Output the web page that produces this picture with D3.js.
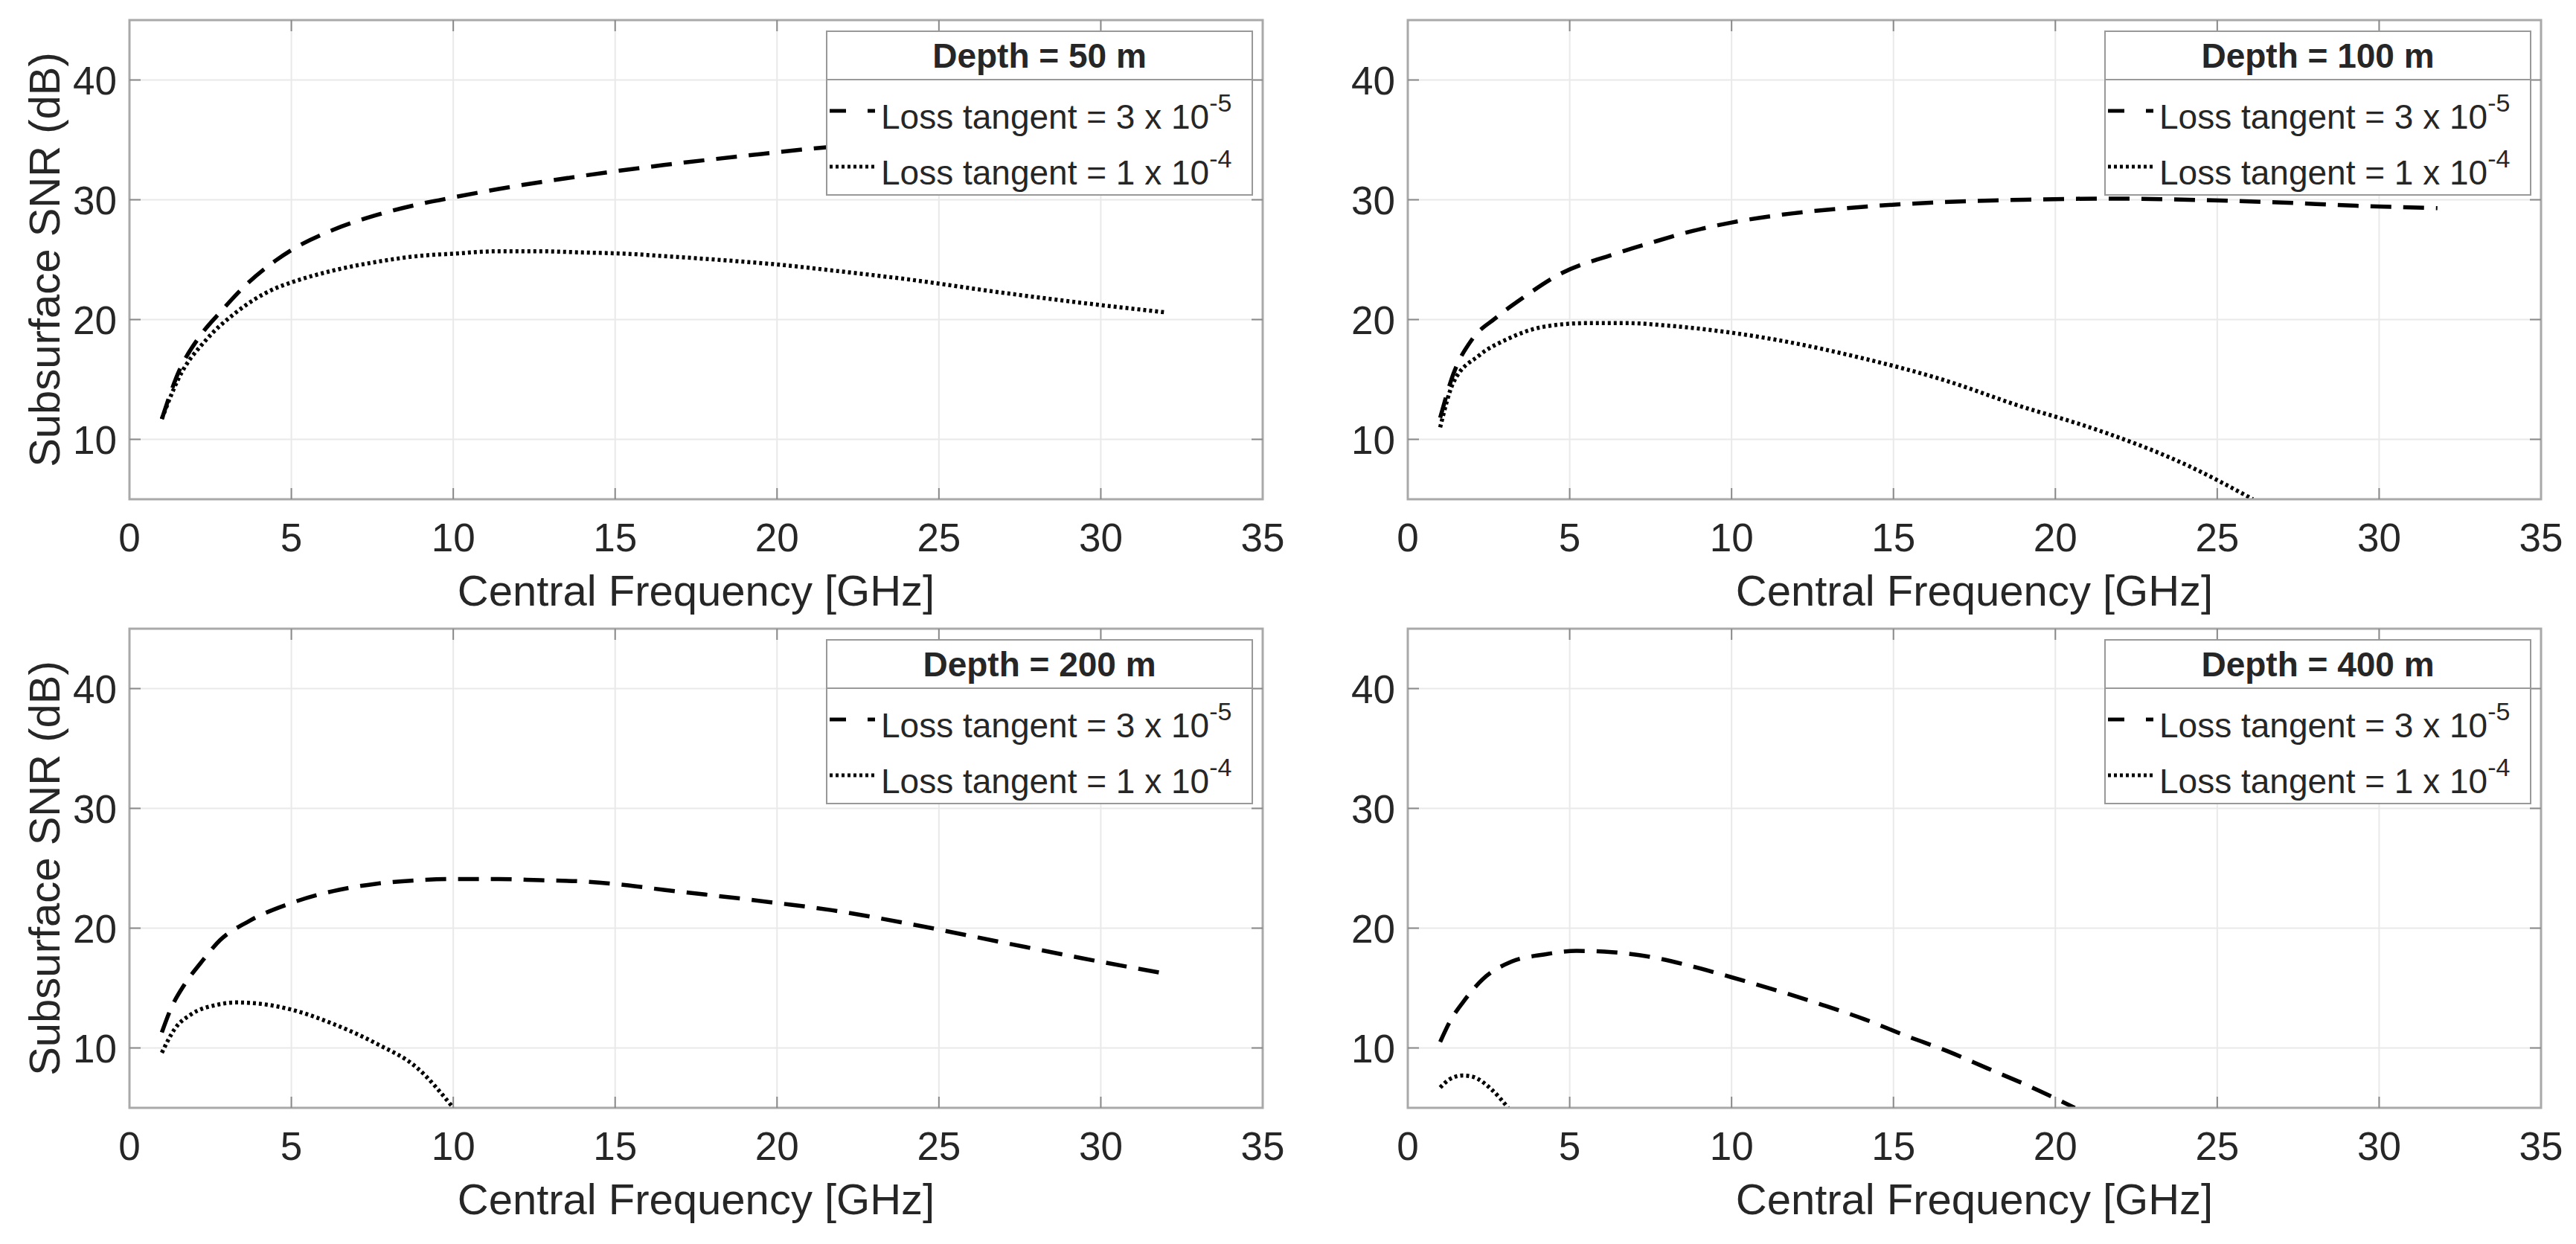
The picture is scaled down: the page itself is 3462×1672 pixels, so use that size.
<!DOCTYPE html>
<html>
<head>
<meta charset="utf-8">
<script src="https://cdn.jsdelivr.net/npm/d3@7"></script>
<style>
body { margin: 0; background: #fff; }
text { font-family: "Liberation Sans", Arial, sans-serif; fill: #262626; }
</style>
</head>
<body>
<svg id="fig" width="3462" height="1672"></svg>
<script>
// ticks and labels
var freqTicks = [0, 5, 10, 15, 20, 25, 30, 35];
var snrTicks = [10, 20, 30, 40];
var depthLabels = ["Depth = 50 m", "Depth = 100 m", "Depth = 200 m", "Depth = 400 m"];
var lossLabels = [["3 x 10", "-5"], ["1 x 10", "-4"]];

// depth 50 m  (a = loss tangent 3e-5, b = 1e-4)
var f50a = [1, 1.5, 2.2, 2.8, 3.6, 4.5, 5, 6.3, 7.6, 8.9, 10, 11.4, 14, 16.5, 19.1, 21.2, 23, 26, 29, 32];
var s50a = [11.7, 15.5, 18.7, 20.6, 22.9, 24.9, 25.8, 27.5, 28.7, 29.6, 30.2, 30.9, 32.0, 32.9, 33.7, 34.3, 34.7, 35.2, 35.6, 35.9];
var f50b = [1, 1.5, 2.4, 3.2, 4.5, 5, 6.3, 7.6, 8.9, 10, 11.4, 12.7, 14, 15.3, 16.5, 19.1, 20, 21.7, 24.2, 26.8, 29.4, 32];
var s50b = [11.7, 15.0, 18.4, 20.4, 22.6, 23.1, 24.1, 24.8, 25.3, 25.5, 25.7, 25.7, 25.6, 25.5, 25.3, 24.8, 24.6, 24.1, 23.3, 22.3, 21.4, 20.6];

// depth 100 m
var f100a = [1, 1.4, 2.0, 2.7, 3.6, 4.7, 6.3, 7.5, 8.8, 10, 11.4, 14, 16.5, 19, 21.6, 24.1, 26.7, 29.3, 31.8];
var s100a = [11.8, 15.4, 18.4, 20.1, 21.9, 23.8, 25.4, 26.4, 27.4, 28.1, 28.7, 29.4, 29.8, 30.0, 30.1, 30.0, 29.8, 29.5, 29.3];
var f100b = [1, 1.4, 2.2, 3.1, 4.2, 5.5, 6.8, 8, 10, 11.4, 14, 16.5, 19, 20.6, 21.6, 24.1, 26.1];
var s100b = [11.0, 14.7, 17.0, 18.4, 19.4, 19.7, 19.7, 19.5, 18.9, 18.3, 16.8, 15.0, 12.7, 11.4, 10.5, 7.8, 5.0];

// depth 200 m
var f200a = [1, 1.3, 1.7, 2.2, 2.8, 3.7, 5, 6.3, 7.6, 8.9, 10, 11.4, 12.7, 14, 15.3, 16.5, 19.1, 20, 21.7, 24.2, 26.8, 29.4, 32];
var s200a = [11.3, 13.4, 15.3, 17.1, 19.0, 20.6, 22.1, 23.1, 23.7, 24.0, 24.1, 24.1, 24.0, 23.9, 23.6, 23.2, 22.4, 22.1, 21.5, 20.3, 18.9, 17.5, 16.2];
var f200b = [1, 1.4, 1.9, 2.7, 3.3, 4, 5, 6.3, 7.6, 8.9, 10];
var s200b = [9.6, 11.6, 12.8, 13.6, 13.8, 13.7, 13.2, 12.0, 10.4, 8.3, 5.0];

// depth 400 m
var f400a = [1, 1.3, 1.7, 2.3, 3.2, 4.2, 5.2, 6.3, 7.5, 8.8, 10, 11.4, 12.8, 14.1, 15.4, 16.7, 17.9, 19.2, 20.6];
var s400a = [10.5, 12.2, 13.8, 15.7, 17.2, 17.8, 18.1, 18.0, 17.6, 16.8, 15.9, 14.8, 13.6, 12.4, 11.0, 9.7, 8.3, 6.8, 5.0];
var f400b = [1, 1.3, 1.7, 2.0, 2.6, 3.1];
var s400b = [6.7, 7.4, 7.7, 7.6, 6.5, 5.0];

var panels = [
    {title: depthLabels[0], a: [f50a, s50a], b: [f50b, s50b], left: 174, top: 27, ytitle: true},
    {title: depthLabels[1], a: [f100a, s100a], b: [f100b, s100b], left: 1892, top: 27, ytitle: false},
    {title: depthLabels[2], a: [f200a, s200a], b: [f200b, s200b], left: 174, top: 845, ytitle: true},
    {title: depthLabels[3], a: [f400a, s400a], b: [f400b, s400b], left: 1892, top: 845, ytitle: false}
];

var W = 1523, H = 644;
var svg = d3.select("#fig");

panels.forEach(function (p, i) {
    var g = svg.append("g").attr("transform", "translate(" + p.left + "," + p.top + ")");
    var x = d3.scaleLinear().domain([0, 35]).range([0, W]);
    var y = d3.scaleLinear().domain([5, 45]).range([H, 0]);

    // grid
    g.selectAll(".gx").data(freqTicks.slice(1, -1)).enter().append("line")
        .attr("x1", x).attr("x2", x).attr("y1", 0).attr("y2", H)
        .attr("stroke", "#e9e9e9").attr("stroke-width", 2);
    g.selectAll(".gy").data(snrTicks).enter().append("line")
        .attr("y1", y).attr("y2", y).attr("x1", 0).attr("x2", W)
        .attr("stroke", "#e9e9e9").attr("stroke-width", 2);

    // curves
    svg.append("clipPath").attr("id", "clip" + i).append("rect")
        .attr("width", W).attr("height", H);
    var line = d3.line().x(function (d) { return x(d[0]); }).y(function (d) { return y(d[1]); })
        .curve(d3.curveMonotoneX);
    var curves = g.append("g").attr("clip-path", "url(#clip" + i + ")");
    curves.append("path").datum(d3.zip(p.a[0], p.a[1])).attr("d", line)
        .attr("fill", "none").attr("stroke", "#000").attr("stroke-width", 5.5)
        .attr("stroke-dasharray", "28,16");
    curves.append("path").datum(d3.zip(p.b[0], p.b[1])).attr("d", line)
        .attr("fill", "none").attr("stroke", "#000").attr("stroke-width", 5.5)
        .attr("stroke-dasharray", "4,4");

    // box
    g.append("rect").attr("width", W).attr("height", H)
        .attr("fill", "none").attr("stroke", "#a9a9a9").attr("stroke-width", 3);

    // ticks, inside on all sides
    var tk = 15;
    freqTicks.slice(1, -1).forEach(function (t) {
        g.append("line").attr("x1", x(t)).attr("x2", x(t)).attr("y1", H).attr("y2", H - tk)
            .attr("stroke", "#8a8a8a").attr("stroke-width", 2);
        g.append("line").attr("x1", x(t)).attr("x2", x(t)).attr("y1", 0).attr("y2", tk)
            .attr("stroke", "#8a8a8a").attr("stroke-width", 2);
    });
    snrTicks.forEach(function (t) {
        g.append("line").attr("y1", y(t)).attr("y2", y(t)).attr("x1", 0).attr("x2", tk)
            .attr("stroke", "#8a8a8a").attr("stroke-width", 2);
        g.append("line").attr("y1", y(t)).attr("y2", y(t)).attr("x1", W).attr("x2", W - tk)
            .attr("stroke", "#8a8a8a").attr("stroke-width", 2);
    });

    // tick labels
    g.selectAll(".xl").data(freqTicks).enter().append("text")
        .attr("x", x).attr("y", H + 70).attr("text-anchor", "middle")
        .attr("font-size", 53).text(function (d) { return d; });
    g.selectAll(".yl").data(snrTicks).enter().append("text")
        .attr("x", -17).attr("y", function (d) { return y(d) + 19; }).attr("text-anchor", "end")
        .attr("font-size", 53).text(function (d) { return d; });

    // axis titles
    g.append("text").attr("x", W / 2).attr("y", H + 143).attr("text-anchor", "middle")
        .attr("font-size", 58).text("Central Frequency [GHz]");
    if (p.ytitle) {
        g.append("text").attr("transform", "translate(" + (80 - p.left) + "," + (H / 2) + ") rotate(-90)")
            .attr("text-anchor", "middle").attr("font-size", 58).text("Subsurface SNR (dB)");
    }

    // legend
    var lw = 572, lh = 220;
    var lg = g.append("g").attr("transform", "translate(" + (W - 14 - lw) + ",15)");
    lg.append("rect").attr("width", lw).attr("height", lh)
        .attr("fill", "#fff").attr("stroke", "#999").attr("stroke-width", 2);
    lg.append("line").attr("x1", 0).attr("x2", lw).attr("y1", 65).attr("y2", 65)
        .attr("stroke", "#999").attr("stroke-width", 2);
    lg.append("text").attr("x", lw / 2).attr("y", 49).attr("text-anchor", "middle")
        .attr("font-size", 46).attr("font-weight", "bold").text(p.title);
    var dashes = ["22,29", "4,4"];
    [131, 206].forEach(function (by, k) {
        lg.append("line").attr("x1", 4).attr("x2", 65).attr("y1", by - 24).attr("y2", by - 24)
            .attr("stroke", "#000").attr("stroke-width", 5).attr("stroke-dasharray", dashes[k]);
        var t = lg.append("text").attr("x", 73).attr("y", by).attr("font-size", 46);
        t.append("tspan").text("Loss tangent = " + lossLabels[k][0]);
        t.append("tspan").attr("dy", -23).attr("font-size", 34).text(lossLabels[k][1]);
    });
});
</script>
</body>
</html>
